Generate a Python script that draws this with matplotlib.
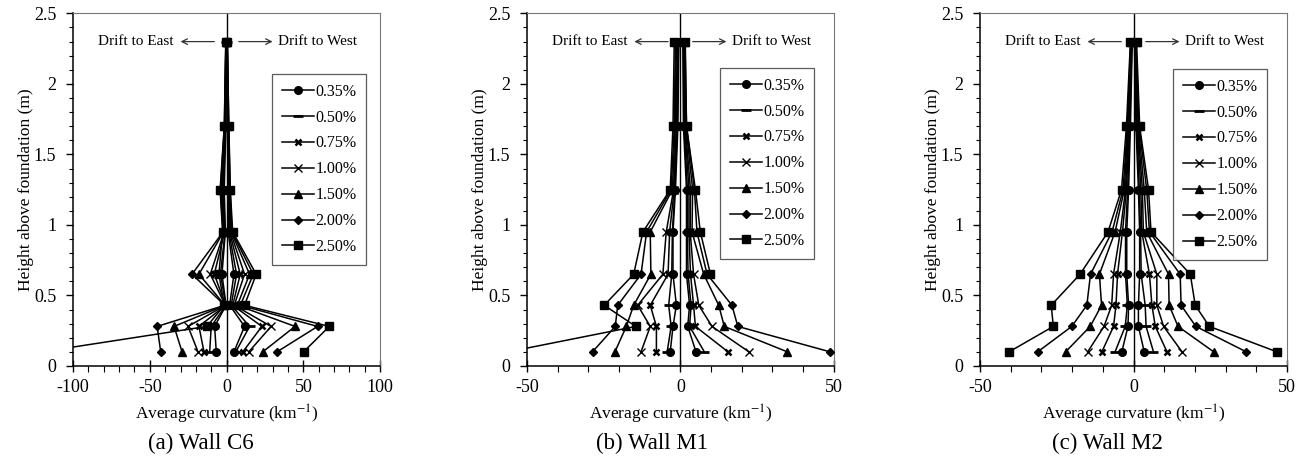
import numpy as np
import matplotlib.pyplot as plt
from matplotlib.ticker import MultipleLocator, FormatStrFormatter

plt.rcParams['font.family'] = ['Liberation Serif', 'DejaVu Serif']
plt.rcParams['mathtext.fontset'] = 'stix'
plt.rcParams['axes.unicode_minus'] = False

heights = [0.1, 0.28, 0.43, 0.65, 0.95, 1.25, 1.7, 2.3]
drifts = ['0.35%', '0.50%', '0.75%', '1.00%', '1.50%', '2.00%', '2.50%']

# average curvature (km^-1) at each height, one row per drift level
# negative = drift to east, positive = drift to west
c6_east = [
    [-6.7, -7.8, -0.3, -3.0, -0.8, -1.5, -0.5, -0.2],
    [-11.0, -10.0, -0.5, -4.0, -1.0, -2.0, -0.7, -0.3],
    [-14.7, -18.0, -0.6, -8.0, -1.3, -2.5, -0.8, -0.3],
    [-18.6, -25.1, -0.8, -10.6, -1.6, -3.0, -1.0, -0.4],
    [-29.0, -34.2, -1.0, -18.0, -2.0, -3.5, -1.2, -0.4],
    [-42.9, -45.2, -1.2, -22.5, -2.3, -4.0, -1.4, -0.5],
    [-120.0, -12.8, -1.5, -5.0, -2.6, -4.2, -1.5, -0.5],
]
c6_west = [
    [4.8, 11.7, 2.0, 4.8, 1.0, 1.0, 0.5, 0.2],
    [6.0, 15.0, 3.0, 6.5, 1.5, 1.3, 0.7, 0.3],
    [10.6, 23.0, 4.0, 8.9, 2.0, 1.6, 0.8, 0.3],
    [14.5, 29.0, 5.0, 11.7, 2.5, 1.9, 1.0, 0.4],
    [23.6, 44.6, 7.0, 15.0, 3.0, 2.1, 1.2, 0.4],
    [32.9, 59.3, 9.0, 17.4, 3.5, 2.3, 1.4, 0.5],
    [50.2, 66.9, 11.7, 19.3, 4.0, 2.4, 1.5, 0.5],
]

m1_east = [
    [-3.3, -2.4, -1.3, -2.4, -2.4, -1.6, -0.8, -0.5],
    [-4.3, -3.0, -3.8, -2.8, -2.6, -1.8, -1.0, -0.6],
    [-7.8, -7.8, -9.8, -4.0, -3.5, -2.0, -1.2, -0.8],
    [-12.8, -9.8, -13.9, -5.7, -4.6, -2.2, -1.4, -1.0],
    [-21.3, -17.6, -15.2, -9.6, -9.8, -2.6, -1.7, -1.3],
    [-28.6, -21.2, -20.4, -12.8, -11.0, -3.0, -2.0, -1.6],
    [-56.0, -14.5, -24.8, -15.2, -12.2, -3.3, -2.4, -2.0],
]
m1_west = [
    [5.1, 2.4, 3.0, 2.0, 2.0, 2.0, 1.0, 0.8],
    [7.8, 3.0, 3.5, 2.5, 2.3, 2.3, 1.2, 1.0],
    [15.5, 4.9, 4.3, 3.3, 2.8, 2.8, 1.4, 1.1],
    [22.3, 10.3, 6.0, 4.3, 3.2, 3.3, 1.6, 1.2],
    [34.8, 14.3, 12.5, 7.6, 3.8, 4.0, 1.8, 1.4],
    [48.7, 18.7, 16.8, 8.7, 5.4, 4.6, 2.0, 1.5],
    [np.nan, np.nan, np.nan, 9.8, 6.5, 4.9, 2.0, 1.6],
]

m2_east = [
    [-3.8, -1.8, -1.6, -2.2, -2.2, -1.6, -1.0, -0.4],
    [-6.0, -2.7, -2.0, -2.6, -2.6, -1.9, -1.2, -0.5],
    [-10.3, -6.5, -5.7, -5.2, -3.6, -2.3, -1.4, -0.6],
    [-14.9, -9.6, -7.1, -6.5, -4.3, -2.6, -1.6, -0.7],
    [-22.1, -14.1, -10.4, -11.1, -6.0, -3.0, -1.8, -0.8],
    [-31.2, -20.1, -15.2, -14.0, -7.0, -3.4, -2.0, -0.9],
    [-40.5, -26.1, -26.8, -17.4, -8.3, -3.9, -2.3, -1.0],
]
m2_west = [
    [3.5, 1.6, 1.6, 2.0, 2.0, 1.6, 0.8, 0.3],
    [6.5, 4.1, 3.8, 2.5, 2.3, 1.9, 1.0, 0.4],
    [10.9, 7.1, 6.0, 5.2, 2.7, 2.4, 1.2, 0.5],
    [15.8, 9.8, 7.6, 7.6, 3.2, 2.9, 1.4, 0.6],
    [26.1, 14.5, 11.6, 11.4, 4.3, 3.5, 1.6, 0.7],
    [36.7, 20.3, 15.5, 15.2, 5.2, 4.3, 1.8, 0.8],
    [46.7, 24.7, 20.1, 18.5, 5.7, 4.9, 2.0, 1.0],
]

walls = [
    ('(a) Wall C6', c6_east, c6_west, 100, 0.154, (0.955, 0.828)),
    ('(b) Wall M1', m1_east, m1_west, 50, 0.500, (0.935, 0.845)),
    ('(c) Wall M2', m2_east, m2_west, 50, 0.849, (0.935, 0.842)),
]

marker_styles = [
    dict(marker='o', ms=5.5),
    dict(marker='_', ms=7, mew=2),
    dict(marker='x', ms=4, mew=1.8),
    dict(marker='x', ms=5.5, mew=1),
    dict(marker='^', ms=6),
    dict(marker='D', ms=4.5),
    dict(marker='s', ms=5.5),
]

fig = plt.figure(figsize=(13.04, 4.62), dpi=100)
lefts = [0.056, 0.404, 0.7515]
width = 0.2355

for k, (caption, east, west, xmax, cap_x, leg_pos) in enumerate(walls):
    ax = fig.add_axes([lefts[k], 0.208, width, 0.763])
    ax.axvline(0, color='k', lw=1, zorder=1)

    for i, label in enumerate(drifts):
        ax.plot(east[i], heights, color='k', lw=1.1, label=label, zorder=3, **marker_styles[i])
        ax.plot(west[i], heights, color='k', lw=1.1, zorder=3, **marker_styles[i])

    ax.set_xlim(-xmax, xmax)
    ax.set_ylim(0, 2.5)
    ax.xaxis.set_major_locator(MultipleLocator(50))
    ax.xaxis.set_minor_locator(MultipleLocator(10))
    ax.yaxis.set_major_locator(MultipleLocator(0.5))
    ax.yaxis.set_minor_locator(MultipleLocator(0.1))
    ax.yaxis.set_major_formatter(FormatStrFormatter('%g'))
    ax.tick_params(axis='x', which='major', direction='inout', length=9, width=1, labelsize=13, pad=5)
    ax.tick_params(axis='x', which='minor', direction='out', length=4, width=0.8)
    ax.tick_params(axis='y', which='major', direction='out', length=5, width=1, labelsize=13, pad=7)
    ax.tick_params(axis='y', which='minor', direction='out', length=3, width=0.8)
    for side in ['top', 'right']:
        ax.spines[side].set_color('#777777')
    for side in ['left', 'bottom']:
        ax.spines[side].set_linewidth(1.1)

    ax.set_xlabel('Average curvature (km$^{-1}$)', fontsize=12.5, labelpad=5)
    ax.set_ylabel('Height above foundation (m)', fontsize=12.5, labelpad=0)

    trans = ax.get_yaxis_transform()
    arrow = dict(arrowstyle='->', color='#333333', lw=0.9, shrinkA=0, shrinkB=0)
    ax.annotate('', xy=(0.35, 2.3), xytext=(0.46, 2.3), xycoords=trans, textcoords=trans, arrowprops=arrow)
    ax.annotate('', xy=(0.65, 2.3), xytext=(0.54, 2.3), xycoords=trans, textcoords=trans, arrowprops=arrow)
    ax.text(0.327, 2.3, 'Drift to East', transform=trans, ha='right', va='center', fontsize=11)
    ax.text(0.667, 2.3, 'Drift to West', transform=trans, ha='left', va='center', fontsize=11)

    leg = ax.legend(loc='upper right', bbox_to_anchor=leg_pos, fontsize=11.5, frameon=True,
                    fancybox=False, edgecolor='#333333', handlelength=2.0, handletextpad=0.1,
                    labelspacing=0.62, borderpad=0.6, borderaxespad=0)
    leg.get_frame().set_linewidth(0.9)

    fig.text(cap_x, 0.04, caption, ha='center', va='center', fontsize=16.5)

fig.savefig('out.png', dpi=100)
